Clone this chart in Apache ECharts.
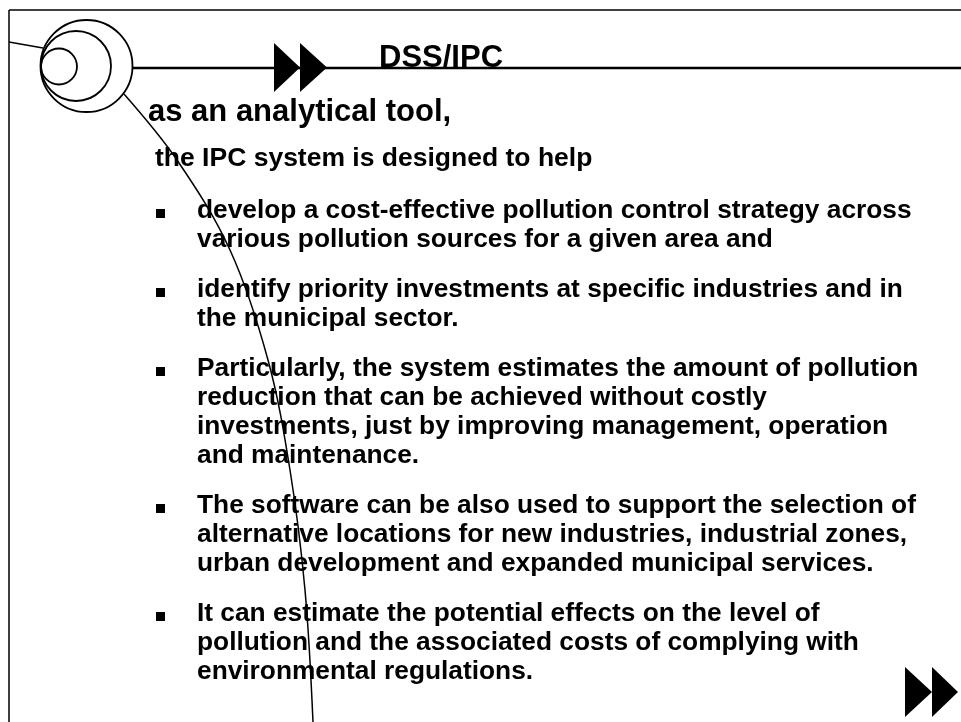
<!DOCTYPE html>
<html>
<head>
<meta charset="utf-8">
<title>DSS/IPC</title>
<script src="https://cdn.jsdelivr.net/npm/echarts@6/dist/echarts.min.js"></script>
<style>
  html, body { margin: 0; padding: 0; background: #fff; }
  #chart { width: 961px; height: 722px; }
</style>
</head>
<body>
<div id="chart"></div>
<script>
// slide text
const titleText = 'DSS/IPC'
const headingText = 'as an analytical tool,'
const introText = 'the IPC system is designed to help'
const bulletLines = [
  ['develop a cost-effective pollution control strategy across',
   'various pollution sources for a given area and'],
  ['identify priority investments at specific industries and in',
   'the municipal sector.'],
  ['Particularly, the system estimates the amount of pollution',
   'reduction that can be achieved without costly',
   'investments, just by improving management, operation',
   'and maintenance.'],
  ['The software can be also used to support the selection of',
   'alternative locations for new industries, industrial zones,',
   'urban development and expanded municipal services.'],
  ['It can estimate the potential effects on the level of',
   'pollution and the associated costs of complying with',
   'environmental regulations.']
]

// decorative sweep line from the rings down the page
const sweepPoints = [
  [124, 94], [177, 160], [230, 250], [268, 360], [290, 470], [305, 590], [313, 722]
]

const FONT = '"Liberation Sans", Arial, Helvetica, sans-serif'
const BODY_SIZE = 26.3
const LINE_H = 29
const PARA_GAP = 21
const TEXT_X = 197
const BULLET_X = 156

// place text by its baseline
const textAt = (text, x, baseline, size) => ({
  type: 'text',
  x: x,
  y: baseline - size * 0.33,
  z: 10,
  style: {
    text: text,
    font: 'bold ' + size + 'px ' + FONT,
    fill: '#000',
    textAlign: 'left',
    textVerticalAlign: 'middle',
    align: 'left',
    verticalAlign: 'middle'
  }
})

const triangle = (x0, x1, yc, h) => ({
  type: 'polygon',
  z: 5,
  shape: { points: [[x0, yc - h / 2], [x1, yc], [x0, yc + h / 2]] },
  style: { fill: '#000', stroke: null }
})

const ring = (cx, cy, r) => ({
  type: 'circle',
  z: 4,
  shape: { cx: cx, cy: cy, r: r },
  style: { fill: 'none', stroke: '#000', lineWidth: 1.8 }
})

const buildElements = () => {
  const els = []
  const line = { stroke: '#000', lineWidth: 1.5 }

  // frame
  els.push({ type: 'line', shape: { x1: 9, y1: 10, x2: 961, y2: 10 }, style: line })
  els.push({ type: 'line', shape: { x1: 9, y1: 10, x2: 9, y2: 722 }, style: line })
  els.push({ type: 'line', shape: { x1: 9, y1: 42, x2: 43, y2: 48 }, style: line })

  // rings
  els.push(ring(86.5, 66, 46))
  els.push(ring(76, 66, 35))
  els.push(ring(59, 66.5, 18))

  // title rule and arrows
  els.push({ type: 'line', shape: { x1: 132, y1: 68, x2: 961, y2: 68 }, style: { stroke: '#000', lineWidth: 2.6 } })
  els.push(triangle(274, 300, 67.5, 49))
  els.push(triangle(300, 327, 67.5, 49))
  els.push(triangle(905, 932, 692, 50))
  els.push(triangle(932, 958, 692, 50))

  // sweep line
  els.push({
    type: 'polyline',
    z: 3,
    shape: { points: sweepPoints, smooth: 0.35 },
    style: { fill: 'none', stroke: '#000', lineWidth: 1.5 }
  })

  // texts
  els.push(textAt(titleText, 379, 69, 31))
  els.push(textAt(headingText, 148, 123, 31))
  els.push(textAt(introText, 155, 167, 26.5))

  let baseline = 219
  bulletLines.forEach((lines) => {
    els.push({
      type: 'rect',
      z: 10,
      shape: { x: BULLET_X, y: baseline - 10, width: 9, height: 9 },
      style: { fill: '#000' }
    })
    lines.forEach((t, i) => {
      els.push(textAt(t, TEXT_X, baseline + i * LINE_H, BODY_SIZE))
    })
    baseline += lines.length * LINE_H + PARA_GAP
  })
  return els
}

const chart = echarts.init(document.getElementById('chart'), null, { renderer: 'canvas' })
chart.setOption({
  backgroundColor: '#fff',
  animation: false,
  graphic: { elements: buildElements() }
})
window.addEventListener('resize', () => chart.resize())
</script>
</body>
</html>
